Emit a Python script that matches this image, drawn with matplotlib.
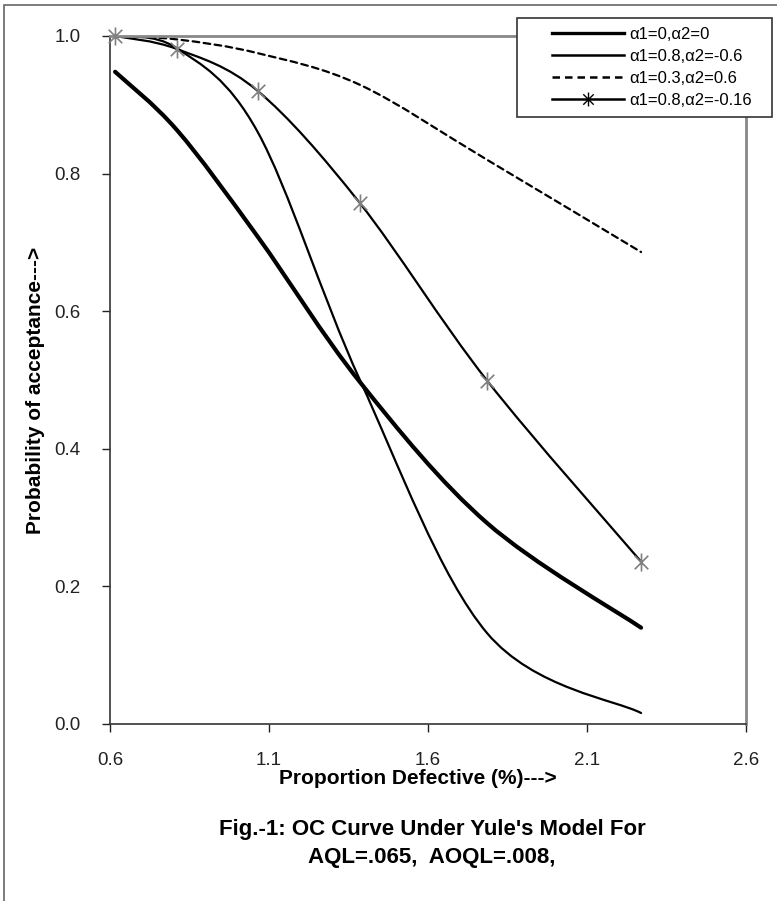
import numpy as np
import matplotlib
matplotlib.use("Agg")
import matplotlib.pyplot as plt
from matplotlib.path import Path
from matplotlib.patches import PathPatch, Rectangle
from matplotlib.lines import Line2D

plt.rcParams['font.family'] = ['Liberation Sans', 'DejaVu Sans']

# proportion defective (%)
p = [0.616, 0.811, 1.065, 1.386, 1.786, 2.27]

# probability of acceptance for each parameter set
pa_00 = [0.948, 0.863, 0.708, 0.497, 0.292, 0.14]
pa_08_m06 = [1.0, 0.982, 0.86, 0.50, 0.132, 0.016]
pa_03_06 = [1.0, 0.995, 0.975, 0.929, 0.82, 0.686]
pa_08_m016 = [1.0, 0.981, 0.92, 0.757, 0.499, 0.236]

labels = ["\u03b11=0,\u03b12=0", "\u03b11=0.8,\u03b12=-0.6",
          "\u03b11=0.3,\u03b12=0.6", "\u03b11=0.8,\u03b12=-0.16"]


def smooth_path(x, y):
    # Excel style smoothed line: cubic bezier through the points
    pts = np.column_stack([x, y])
    n = len(pts)
    verts = [pts[0]]
    codes = [Path.MOVETO]
    for i in range(n - 1):
        p0 = pts[i - 1] if i > 0 else pts[i]
        p1 = pts[i]
        p2 = pts[i + 1]
        p3 = pts[i + 2] if i + 2 < n else pts[i + 1]
        c1 = p1 + (p2 - p0) / 6.0
        c2 = p2 - (p3 - p1) / 6.0
        verts += [c1, c2, p2]
        codes += [Path.CURVE4] * 3
    return Path(verts, codes)


star = Path([(0, -1), (0, 1), (-0.75, -0.75), (0.75, 0.75), (-0.75, 0.75), (0.75, -0.75)],
            [Path.MOVETO, Path.LINETO, Path.MOVETO, Path.LINETO, Path.MOVETO, Path.LINETO])

fig = plt.figure(figsize=(7.77, 9.01), dpi=100)
ax = fig.add_axes([110 / 777, 1 - 724 / 901, 636 / 777, 688 / 901])

styles = [
    dict(lw=3.0, ls='-'),
    dict(lw=1.6, ls='-'),
    dict(lw=1.6, ls=(0, (3, 2))),
    dict(lw=1.6, ls='-'),
]
series = [pa_00, pa_08_m06, pa_03_06, pa_08_m016]
for ys, st in zip(series, styles):
    patch = PathPatch(smooth_path(p, ys), facecolor='none', edgecolor='black',
                      lw=st['lw'], linestyle=st['ls'], capstyle='round')
    ax.add_patch(patch)

ax.plot(p, pa_08_m016, ls='none', marker=star, markersize=13, markeredgewidth=1.2,
        markeredgecolor='#808080', zorder=5, clip_on=False)

ax.set_xlim(0.6, 2.6)
ax.set_ylim(0.0, 1.0)
ax.set_xticks([0.6, 1.1, 1.6, 2.1, 2.6])
ax.set_yticks([0.0, 0.2, 0.4, 0.6, 0.8, 1.0])
ax.xaxis.set_major_formatter(plt.FormatStrFormatter('%.1f'))
ax.yaxis.set_major_formatter(plt.FormatStrFormatter('%.1f'))
ax.tick_params(direction='out', length=6, width=1, labelsize=13.5, colors='#222222')
ax.tick_params(axis='y', pad=15)
ax.tick_params(axis='x', pad=14)
for s in ['left', 'bottom']:
    ax.spines[s].set_color('#333333')
    ax.spines[s].set_linewidth(1.2)
for s in ['top', 'right']:
    ax.spines[s].set_color('#888888')
    ax.spines[s].set_linewidth(2)

# legend box (white, drawn over the top spine)
fig.patches.append(Rectangle((517 / 777, 1 - 117 / 901), 255 / 777, 99 / 901,
                             transform=fig.transFigure, facecolor='white',
                             edgecolor='#333333', lw=1.2, zorder=3))
handles = [
    Line2D([], [], color='black', lw=2.4),
    Line2D([], [], color='black', lw=1.8),
    Line2D([], [], color='black', lw=1.8, ls=(0, (3, 2))),
    Line2D([], [], color='black', lw=1.8, marker=star, markersize=10,
           markeredgecolor='black', markeredgewidth=1),
]
leg = fig.legend(handles, labels, loc='upper left', bbox_to_anchor=(552 / 777, 1 - 27 / 901),
                 fontsize=12, frameon=False, handlelength=4.3, borderpad=0,
                 labelspacing=0.42, handletextpad=0.35, borderaxespad=0)
leg.set_zorder(4)

fig.text(36 / 777, 1 - 390 / 901, "Probability of acceptance--->", rotation=90,
         ha='center', va='center', fontsize=15, fontweight='bold')
fig.text(418 / 777, 1 - 779 / 901, "Proportion Defective (%)--->",
         ha='center', va='center', fontsize=15, fontweight='bold')
fig.text(432 / 777, 1 - 829 / 901, "Fig.-1: OC Curve Under Yule's Model For",
         ha='center', va='center', fontsize=16, fontweight='bold')
fig.text(432 / 777, 1 - 858 / 901, "AQL=.065,  AOQL=.008,",
         ha='center', va='center', fontsize=16, fontweight='bold')

# figure frame (left and top edges visible)
fig.patches.append(Rectangle((4 / 777, -0.1), 1.1, 1.1 - 5 / 901, transform=fig.transFigure,
                             fill=False, edgecolor='#666666', lw=1.2))

fig.savefig("out.png", dpi=100)
